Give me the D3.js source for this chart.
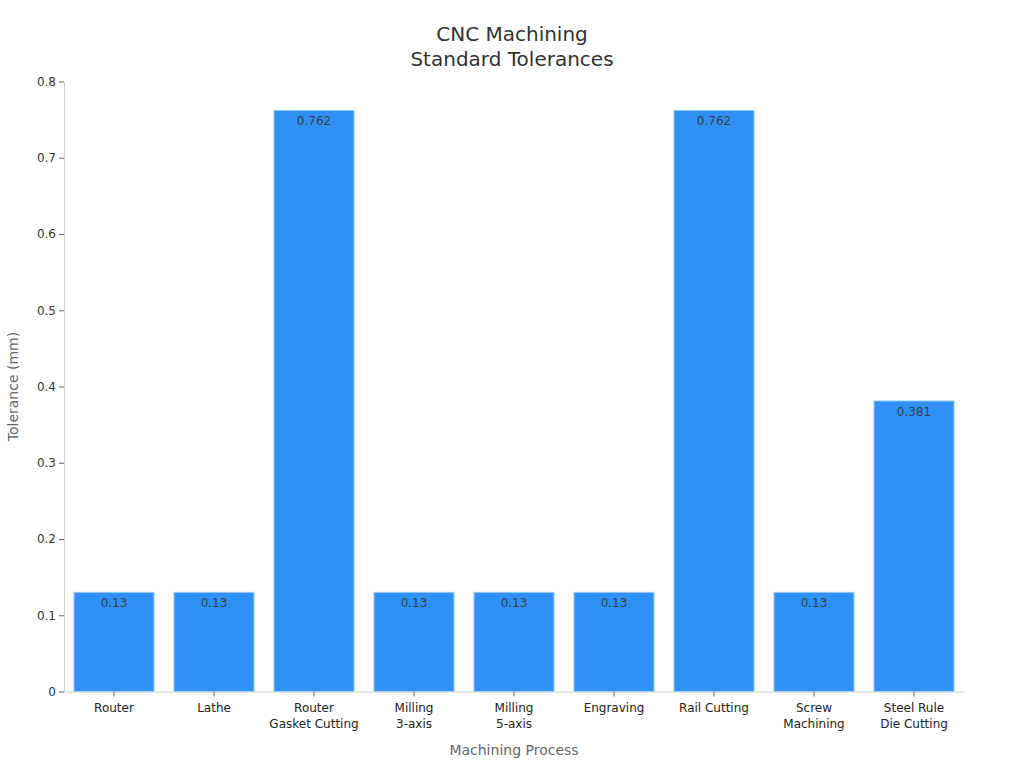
<!DOCTYPE html>
<html><head><meta charset="utf-8">
<script src="https://cdn.jsdelivr.net/npm/d3@7"></script>
<style>body{margin:0;background:#fff;font-family:"DejaVu Sans",sans-serif;}</style>
</head><body><svg id="c" width="1024" height="768"></svg>
<script>
const categories = [["Router"],["Lathe"],["Router","Gasket Cutting"],["Milling","3-axis"],["Milling","5-axis"],["Engraving"],["Rail Cutting"],["Screw","Machining"],["Steel Rule","Die Cutting"]];
const values = [0.13,0.13,0.762,0.13,0.13,0.13,0.762,0.13,0.381];
const yTicks = [0,0.1,0.2,0.3,0.4,0.5,0.6,0.7,0.8];

const svg = d3.select("#c");
const m = {l:64, r:60, t:81.5, b:76.5};
const W = 1024, H = 768;
const keys = categories.map((c,i)=>i);
const x = d3.scaleBand().domain(keys).range([m.l, W-m.r]).paddingInner(0.2).paddingOuter(0.1);
const y = d3.scaleLinear().domain([0,0.8]).range([H-m.b, m.t]);

// y axis
const ya = svg.append("g").attr("transform",`translate(${m.l},0)`).call(d3.axisLeft(y).tickValues(yTicks).tickFormat(d=>d===0?"0":d3.format(".1f")(d)).tickSize(5).tickSizeOuter(0));
ya.select(".domain").attr("stroke","#ccc");
ya.selectAll(".tick line").attr("stroke","#666");
ya.selectAll(".tick text").attr("fill","#333").attr("font-size",12).attr("font-family","DejaVu Sans");

// bars
svg.append("g").selectAll("rect").data(values).join("rect")
  .attr("x",(d,i)=>x(i)).attr("width",x.bandwidth())
  .attr("y",d=>y(d)).attr("height",d=>y(0)-y(d))
  .attr("fill","#2f91f5").attr("stroke","#90c8fb").attr("stroke-width",1);

svg.append("g").selectAll("text").data(values).join("text")
  .attr("x",(d,i)=>x(i)+x.bandwidth()/2).attr("y",d=>y(d)+15)
  .attr("text-anchor","middle").attr("font-size",12).attr("fill","#333").attr("fill-opacity",0.9)
  .text(d=>d);

// x axis
const xa = svg.append("g").attr("transform",`translate(0,${y(0)})`).call(d3.axisBottom(x).tickSize(5).tickSizeOuter(0).tickFormat(""));
xa.select(".domain").attr("stroke","#ccc");
xa.selectAll(".tick line").attr("stroke","#666");
xa.selectAll(".tick").each(function(d){
  const t = d3.select(this).append("text").attr("fill","#222").attr("font-size",12).attr("text-anchor","middle").attr("font-family","DejaVu Sans");
  categories[d].forEach((s,j)=>t.append("tspan").attr("x",0).attr("y",20.5+j*16).text(s));
});

// axis titles
svg.append("text").attr("x",(m.l+W-m.r)/2).attr("y",755).attr("text-anchor","middle").attr("font-size",14).attr("fill","#666").text("Machining Process");
svg.append("text").attr("transform",`translate(18,${(m.t+H-m.b)/2}) rotate(-90)`).attr("text-anchor","middle").attr("font-size",14).attr("fill","#666").text("Tolerance (mm)");

// title
const tt = svg.append("text").attr("text-anchor","middle").attr("font-size",20).attr("fill","#333");
tt.append("tspan").attr("x",512).attr("y",41).text("CNC Machining");
tt.append("tspan").attr("x",512).attr("y",66).text("Standard Tolerances");
</script></body></html>
